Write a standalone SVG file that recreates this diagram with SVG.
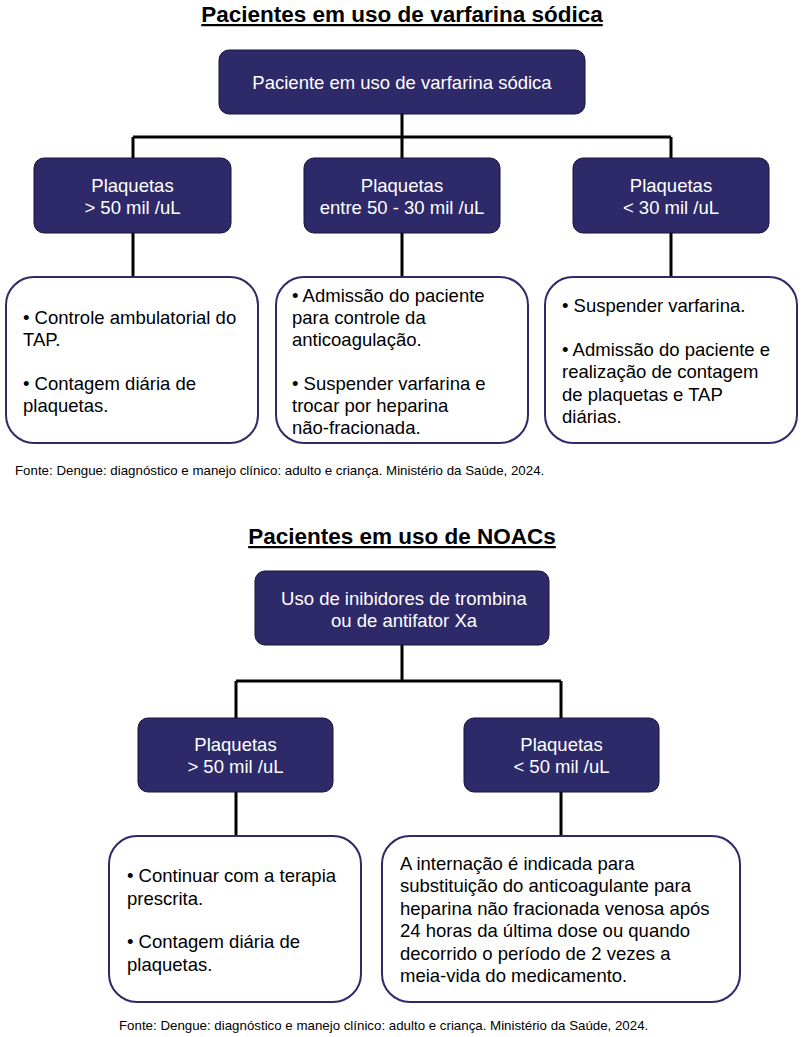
<svg xmlns="http://www.w3.org/2000/svg" width="805" height="1037" viewBox="0 0 805 1037">
<style>
text{font-family:"Liberation Sans",Arial,sans-serif}
.title{font-size:22.5px;font-weight:bold;fill:#000;text-anchor:middle;text-decoration:underline}
.dark rect{fill:#2E2A6A;stroke:#15133a;stroke-width:1}
.dark text{fill:#fff;font-size:18.5px;text-anchor:middle}
.light rect{fill:#fff;stroke:#2E2A6A;stroke-width:2}
.light text{fill:#000;font-size:18.5px}
.src{font-size:13.3px;fill:#000}
.conn{fill:none;stroke:#000;stroke-width:3}
</style>
<rect width="805" height="1037" fill="#fff"/>
<text class="title" x="402" y="22">Pacientes em uso de varfarina sódica</text>
<g id="connectors">
<path class="conn" d="M402 114V137M133 137H671M133 137V158M402 137V158M671 137V158M133 233V277M402 233V277M671 233V277"/>
<path class="conn" d="M402 645V681M236 681H561M236 681V718M561 681V718M236 792V836M561 792V836"/>
</g>
<g id="root1" class="dark"><rect x="219" y="50" width="366" height="64" rx="10"/><text x="402" y="89">Paciente em uso de varfarina sódica</text></g>
<g id="p50" class="dark"><rect x="34" y="158" width="197" height="75" rx="10"/><text x="132.5" y="192">Plaquetas</text><text x="132.5" y="214">&gt; 50 mil /uL</text></g>
<g id="p5030" class="dark"><rect x="304" y="158" width="196" height="75" rx="10"/><text x="402" y="192">Plaquetas</text><text x="402" y="214">entre 50 - 30 mil /uL</text></g>
<g id="p30" class="dark"><rect x="573" y="158" width="196" height="75" rx="10"/><text x="671" y="192">Plaquetas</text><text x="671" y="214">&lt; 30 mil /uL</text></g>
<g id="a1" class="light"><rect x="6" y="277" width="252" height="166" rx="28"/>
<text x="23" y="324">• Controle ambulatorial do</text><text x="23" y="346">TAP.</text>
<text x="23" y="390">• Contagem diária de</text><text x="23" y="412">plaquetas.</text></g>
<g id="a2" class="light"><rect x="276" y="277" width="252" height="166" rx="28"/>
<text x="292" y="302">• Admissão do paciente</text><text x="292" y="324">para controle da</text><text x="292" y="346">anticoagulação.</text>
<text x="292" y="390">• Suspender varfarina e</text><text x="292" y="412">trocar por heparina</text><text x="292" y="434">não-fracionada.</text></g>
<g id="a3" class="light"><rect x="545" y="277" width="252" height="166" rx="28"/>
<text x="562" y="312">• Suspender varfarina.</text>
<text x="562" y="356">• Admissão do paciente e</text><text x="562" y="378">realização de contagem</text><text x="562" y="401">de plaquetas e TAP</text><text x="562" y="423">diárias.</text></g>
<text class="src" x="15" y="475">Fonte: Dengue: diagnóstico e manejo clínico: adulto e criança. Ministério da Saúde, 2024.</text>

<text class="title" x="402" y="544">Pacientes em uso de NOACs</text>
<g id="root2" class="dark"><rect x="255" y="571" width="294" height="74" rx="10"/><text x="404" y="605">Uso de inibidores de trombina</text><text x="404" y="627">ou de antifator Xa</text></g>
<g id="n50" class="dark"><rect x="138" y="718" width="195" height="74" rx="10"/><text x="235.5" y="751">Plaquetas</text><text x="235.5" y="773">&gt; 50 mil /uL</text></g>
<g id="m50" class="dark"><rect x="464" y="718" width="195" height="74" rx="10"/><text x="561.5" y="751">Plaquetas</text><text x="561.5" y="773">&lt; 50 mil /uL</text></g>
<g id="b1" class="light"><rect x="109" y="836" width="252" height="166" rx="28"/>
<text x="127" y="882">• Continuar com a terapia</text><text x="127" y="905">prescrita.</text>
<text x="127" y="948">• Contagem diária de</text><text x="127" y="971">plaquetas.</text></g>
<g id="b2" class="light"><rect x="382" y="836" width="358" height="166" rx="28"/>
<text x="400" y="870">A internação é indicada para</text><text x="400" y="892">substituição do anticoagulante para</text><text x="400" y="915">heparina não fracionada venosa após</text><text x="400" y="937">24 horas da última dose ou quando</text><text x="400" y="960">decorrido o período de 2 vezes a</text><text x="400" y="982">meia-vida do medicamento.</text></g>
<text class="src" x="119" y="1030">Fonte: Dengue: diagnóstico e manejo clínico: adulto e criança. Ministério da Saúde, 2024.</text>
</svg>
